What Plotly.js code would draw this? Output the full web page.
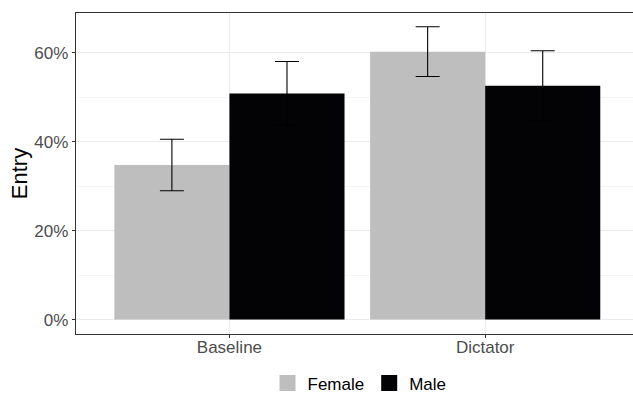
<!DOCTYPE html>
<html>
<head>
<meta charset="utf-8">
<script src="https://cdn.plot.ly/plotly-3.0.1.min.js"></script>
<style>html,body{margin:0;padding:0;background:#fff;}#chart{width:633px;height:394px;}</style>
</head>
<body>
<div id="chart"></div>
<script>
var categories = ["Baseline", "Dictator"];
var groups = ["Female", "Male"];
var female = [0.348, 0.603];
var femaleErr = [0.058, 0.056];
var male = [0.509, 0.526];
var maleErr = [0.072, 0.079];
var colors = ["#bebebe", "#030305"];

var font = "Liberation Sans, Arial, Helvetica, sans-serif";

var traces = [
  {
    type: "bar", name: groups[0], x: categories, y: female, showlegend: false,
    marker: {color: colors[0], line: {width: 0}},
    error_y: {type: "data", array: femaleErr, visible: true, color: "#000000", thickness: 1.1, width: 12},
    hoverinfo: "none"
  },
  {
    type: "bar", name: groups[1], x: categories, y: male, showlegend: false,
    marker: {color: colors[1], line: {width: 0}},
    error_y: {type: "data", array: maleErr, visible: true, color: "#000000", thickness: 1.1, width: 12},
    hoverinfo: "none"
  }
];
// legend keys (no data drawn)
groups.forEach(function (g, i) {
  traces.push({
    type: "scatter", mode: "markers", name: g, x: [null], y: [null],
    marker: {symbol: "square", size: 16, color: colors[i], line: {width: 0}},
    showlegend: true, hoverinfo: "none"
  });
});

var layout = {
  width: 633, height: 394,
  margin: {l: 76, r: 0, t: 13, b: 60, autoexpand: false},
  paper_bgcolor: "#ffffff", plot_bgcolor: "#ffffff",
  barmode: "group", bargap: 0.1, bargroupgap: 0,
  showlegend: true,
  legend: {
    orientation: "h", x: 0.509, xanchor: "center", y: -0.21, yanchor: "bottom",
    font: {family: font, size: 17, color: "#000000"},
    itemwidth: 30, traceorder: "normal"
  },
  xaxis: {
    type: "category",
    range: [-0.6, 1.578],
    showline: true, mirror: true, linecolor: "#333333", linewidth: 1.2,
    showgrid: true, gridcolor: "#ebebeb", gridwidth: 1,
    ticks: "outside", ticklen: 3, tickcolor: "#333333", tickwidth: 1,
    ticklabelstandoff: -6,
    tickfont: {family: font, size: 17, color: "#4d4d4d"},
    zeroline: false, fixedrange: true
  },
  yaxis: {
    range: [-0.0325, 0.69],
    tickvals: [0, 0.2, 0.4, 0.6], tickformat: ".0%",
    showline: true, mirror: false, linecolor: "#333333", linewidth: 1.2,
    showgrid: true, gridcolor: "#ebebeb", gridwidth: 1,
    minor: {tickvals: [0.1, 0.3, 0.5], showgrid: true, gridcolor: "#f3f3f3", gridwidth: 0.8, ticks: ""},
    ticks: "outside", ticklen: 3, tickcolor: "#333333", tickwidth: 1,
    tickfont: {family: font, size: 17, color: "#4d4d4d"},
    zeroline: false, fixedrange: true,
    title: {text: "Entry", font: {family: font, size: 22, color: "#000000"}, standoff: 0}
  }
};

Plotly.newPlot("chart", traces, layout, {displayModeBar: false, staticPlot: true});
</script>
</body>
</html>
